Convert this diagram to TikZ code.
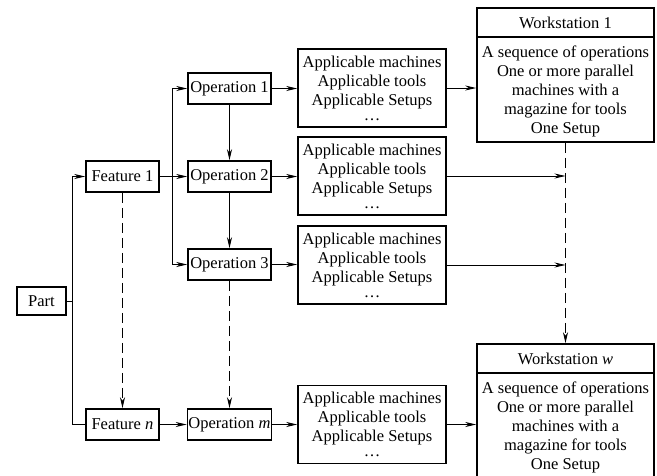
\documentclass[tikz,border=0pt]{standalone}
\usepackage{fontspec}
\setmainfont{Liberation Serif}
\usetikzlibrary{arrows.meta}
% centred block of lines, lowered by #1 without changing its size
\newcommand{\lowblock}[2]{\raisebox{-#1}[\height][\depth]{\begin{tabular}{@{}c@{}}#2\end{tabular}}}
\begin{document}
\begin{tikzpicture}[x=1pt,y=-1pt,
  box/.style={draw, line width=1.6pt, inner sep=1pt, align=center,
    font=\fontsize{16.5}{19}\selectfont},
  feat/.style={box, minimum width=73pt, minimum height=31pt},
  opbox/.style={box, minimum width=83pt, minimum height=31pt},
  appbox/.style={box, minimum width=148pt, minimum height=78pt},
  wshead/.style={box, minimum width=177pt, minimum height=29pt},
  wsbody/.style={box, minimum width=177pt, minimum height=105pt},
  conn/.style={line width=0.9pt},
  tip/.style={-{Stealth[length=11pt,width=5pt,inset=3.5pt]}},
  arr/.style={conn, tip},
  dashline/.style={conn, dash pattern=on 10pt off 5pt},
]
\useasboundingbox (0,0) rectangle (657,475);
\fill[white] (0,0) rectangle (657,475);
\clip (0,0) rectangle (657,475);

% boxes
\node[box, minimum width=49pt, minimum height=28pt] (part) at (41.5,301) {Part};
\node[feat] (f1) at (122.5,176.5) {Feature 1};
\node[feat] (fn) at (122.5,424.5) {Feature \textit{n}};

\node[opbox] (op1) at (229.5,88.5)  {Operation 1};
\node[opbox] (op2) at (229.5,176.5) {Operation 2};
\node[opbox] (op3) at (229.5,264.5) {Operation 3};
\node[opbox] (opm) at (229.5,424.5) {Operation \textit{m}};

\newcommand{\apptext}{\lowblock{2pt}{Applicable machines\\Applicable tools\\Applicable Setups\\[-4pt]\dots}}
\node[appbox] (app1) at (372,88)    {\apptext};
\node[appbox] (app2) at (372,176)   {\apptext};
\node[appbox] (app3) at (372,265)   {\apptext};
\node[appbox] (app4) at (372,424.5) {\apptext};

\newcommand{\wstext}{\lowblock{2pt}{A sequence of operations\\One or more parallel\\machines with a\\magazine for tools\\One Setup}}
\node[wshead] (ws1h) at (565.5,22.5) {Workstation 1};
\node[wsbody] (ws1b) at (565.5,89.5) {\wstext};
\node[wshead] (wswh) at (565.5,358.5) {Workstation \textit{w}};
\node[wsbody] (wswb) at (565.5,425.5) {\wstext};

% part to features
\coordinate (ftrunk) at (72,301);
\draw[conn] (part.east) -- (ftrunk);
\draw[arr] (ftrunk) |- (f1.west);
\draw[conn] (ftrunk) |- (fn.west);
\draw[dashline, tip] (f1.south) -- (fn.north);

% feature 1 to its operations
\coordinate (otrunk) at (172,176.5);
\draw[conn] (f1.east) -- (otrunk);
\draw[arr] (otrunk) |- (op1.west);
\draw[arr] (otrunk) -- (op2.west);
\draw[arr] (otrunk) |- (op3.west);
\draw[arr] (fn.east) -- (opm.west);

% operation sequence
\draw[arr] (op1.south) -- (op2.north);
\draw[arr] (op2.south) -- (op3.north);
\draw[dashline, tip] (op3.south) -- (opm.north);

% operations to resources
\draw[arr] (op1.east) -- (op1.east -| app1.west);
\draw[arr] (op2.east) -- (op2.east -| app2.west);
\draw[arr] (op3.east) -- (op3.east -| app3.west);
\draw[arr] (opm.east) -- (opm.east -| app4.west);

% resources to workstations
\draw[arr] (app1.east) -- (app1.east -| ws1b.west);
\draw[arr] (app2.east) -- (app2.east -| ws1b.south);
\draw[arr] (app3.east) -- (app3.east -| ws1b.south);
\draw[arr] (app4.east) -- (app4.east -| wswb.west);
\draw[dashline, tip] (ws1b.south) -- (wswh.north);
\end{tikzpicture}
\end{document}
